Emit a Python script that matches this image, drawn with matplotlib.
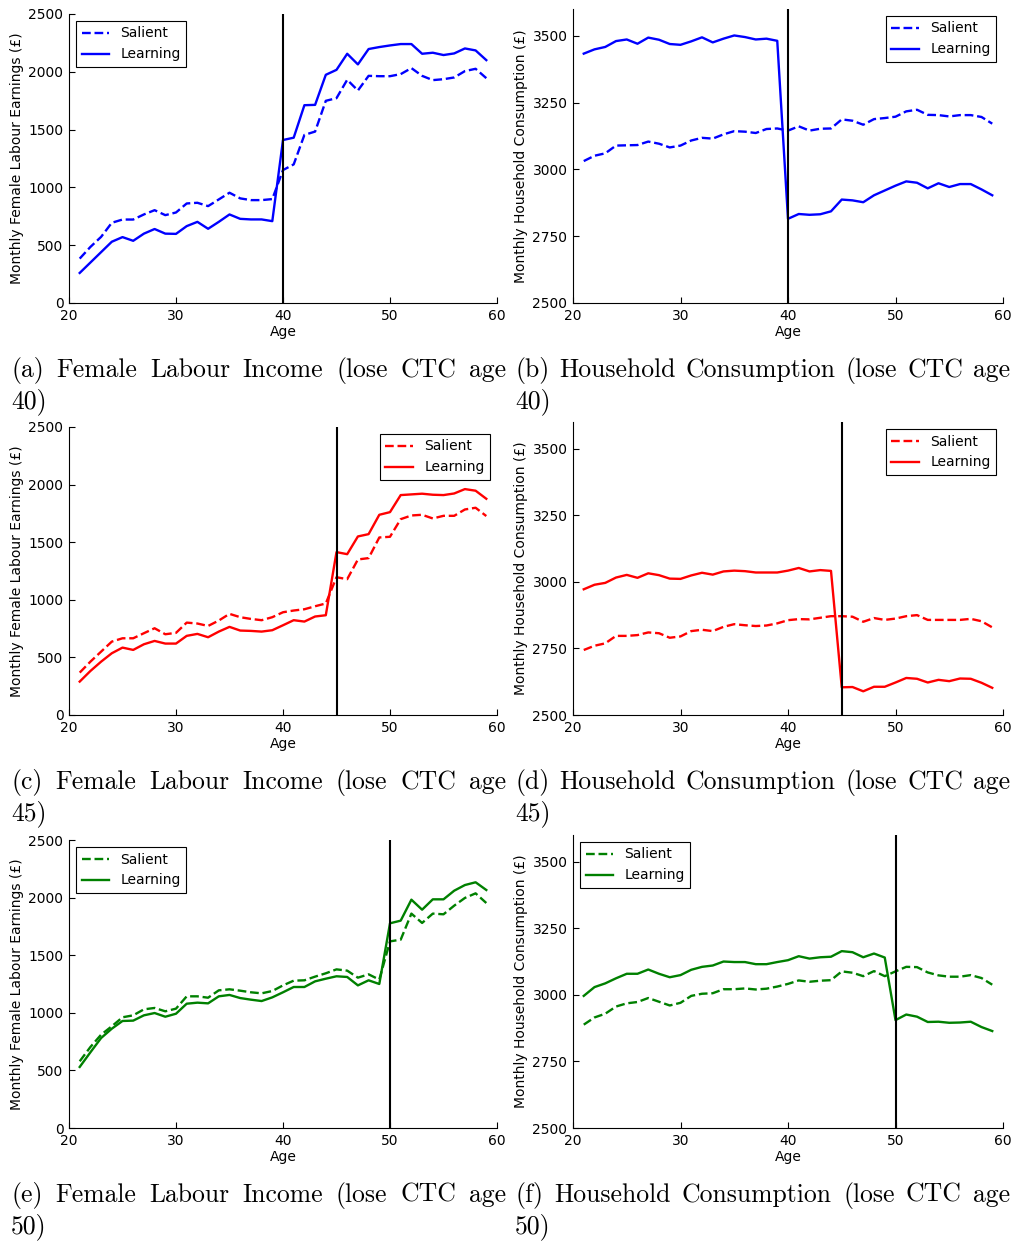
import numpy as np
import matplotlib
matplotlib.use("Agg")
import matplotlib.pyplot as plt

ages = np.arange(21, 60)

# female labour earnings, lose CTC at 40
earn40_salient = [384, 485, 572, 694, 722, 722, 766, 803, 760, 783, 861, 867, 838, 896, 954, 905, 890, 890, 899,
                  1150, 1199, 1454, 1483, 1749, 1772, 1931, 1838, 1965, 1962, 1962, 1980, 2032, 1965, 1928, 1936,
                  1951, 2006, 2026, 1945]
earn40_learning = [260, 350, 440, 530, 570, 538, 600, 640, 600, 598, 665, 702, 642, 702, 766, 728, 723, 723, 708,
                   1410, 1430, 1711, 1714, 1974, 2017, 2156, 2064, 2197, 2214, 2228, 2240, 2240, 2156, 2165, 2145,
                   2159, 2202, 2185, 2101]

# household consumption, lose CTC at 40
cons40_salient = [3031, 3051, 3060, 3089, 3090, 3091, 3104, 3096, 3082, 3089, 3108, 3118, 3115, 3131, 3143, 3141,
                  3136, 3151, 3153, 3145, 3161, 3145, 3152, 3153, 3187, 3182, 3167, 3188, 3192, 3197, 3217, 3223,
                  3204, 3203, 3198, 3203, 3203, 3196, 3171]
cons40_learning = [3433, 3449, 3458, 3480, 3486, 3470, 3493, 3485, 3469, 3466, 3479, 3494, 3475, 3489, 3501, 3495,
                   3486, 3489, 3481, 2815, 2833, 2830, 2832, 2843, 2887, 2884, 2877, 2903, 2921, 2939, 2955, 2950,
                   2929, 2948, 2934, 2945, 2945, 2925, 2903]

# female labour earnings, lose CTC at 45
earn45_salient = [368, 463, 550, 637, 666, 666, 710, 753, 701, 713, 802, 794, 773, 820, 878, 849, 834, 823, 849,
                  892, 907, 918, 944, 968, 1196, 1179, 1350, 1362, 1541, 1547, 1700, 1732, 1738, 1706, 1729, 1729,
                  1784, 1799, 1727]
earn45_learning = [290, 382, 463, 536, 585, 565, 614, 643, 620, 620, 687, 704, 675, 724, 765, 733, 730, 724, 736,
                   779, 823, 811, 855, 866, 1414, 1396, 1550, 1570, 1738, 1761, 1909, 1915, 1921, 1912, 1909, 1923,
                   1961, 1947, 1877]

# household consumption, lose CTC at 45
cons45_salient = [2744, 2760, 2769, 2797, 2797, 2800, 2810, 2807, 2790, 2795, 2815, 2820, 2815, 2831, 2841, 2837,
                  2834, 2836, 2844, 2856, 2860, 2859, 2865, 2871, 2871, 2869, 2850, 2864, 2857, 2862, 2871, 2875,
                  2857, 2857, 2857, 2857, 2861, 2852, 2829]
cons45_learning = [2972, 2989, 2996, 3016, 3026, 3015, 3032, 3025, 3012, 3011, 3024, 3034, 3027, 3039, 3042, 3040,
                   3035, 3035, 3035, 3042, 3052, 3039, 3044, 3041, 2604, 2605, 2589, 2606, 2606, 2622, 2639, 2636,
                   2622, 2632, 2627, 2637, 2636, 2621, 2602]

# female labour earnings, lose CTC at 50
earn50_salient = [579, 703, 810, 883, 961, 978, 1030, 1042, 1013, 1036, 1143, 1143, 1131, 1195, 1204, 1192, 1178,
                  1169, 1189, 1238, 1279, 1282, 1314, 1343, 1377, 1366, 1305, 1334, 1288, 1620, 1635, 1861, 1780,
                  1861, 1855, 1930, 1997, 2037, 1953]
earn50_learning = [530, 657, 781, 862, 929, 932, 978, 998, 966, 992, 1079, 1088, 1082, 1143, 1155, 1128, 1114,
                   1102, 1134, 1178, 1224, 1224, 1273, 1296, 1317, 1311, 1238, 1282, 1250, 1777, 1800, 1982, 1895,
                   1985, 1985, 2060, 2109, 2133, 2066]

# household consumption, lose CTC at 50
cons50_salient = [2888, 2915, 2929, 2956, 2968, 2973, 2988, 2974, 2960, 2970, 2996, 3004, 3006, 3021, 3021, 3024,
                  3020, 3023, 3031, 3041, 3054, 3049, 3053, 3055, 3088, 3083, 3070, 3089, 3070, 3088, 3105, 3104,
                  3084, 3073, 3068, 3068, 3074, 3063, 3038]
cons50_learning = [2996, 3029, 3043, 3062, 3079, 3079, 3095, 3079, 3066, 3074, 3094, 3105, 3110, 3125, 3123, 3123,
                   3115, 3115, 3123, 3130, 3145, 3136, 3141, 3143, 3164, 3160, 3141, 3155, 3140, 2905, 2926, 2918,
                   2898, 2899, 2895, 2896, 2899, 2879, 2864]

W, H = 1019, 1243
fig = plt.figure(figsize=(W / 100, H / 100), dpi=100)

earn_label = "Monthly Female Labour Earnings (£)"
cons_label = "Monthly Household Consumption (£)"

# (left, right, top, bottom) in pixels, series, colour, loss age, legend loc, caption
panels = [
    ((69, 497, 14, 303), earn40_salient, earn40_learning, 'b', 40, 'upper left', earn_label,
     "(a) Female Labour Income (lose CTC age", "40)"),
    ((573, 1003, 9, 303), cons40_salient, cons40_learning, 'b', 40, 'upper right', cons_label,
     "(b) Household Consumption (lose CTC age", "40)"),
    ((69, 497, 427, 715), earn45_salient, earn45_learning, 'r', 45, 'upper right', earn_label,
     "(c) Female Labour Income (lose CTC age", "45)"),
    ((573, 1003, 422, 715), cons45_salient, cons45_learning, 'r', 45, 'upper right', cons_label,
     "(d) Household Consumption (lose CTC age", "45)"),
    ((69, 497, 840, 1128), earn50_salient, earn50_learning, 'g', 50, 'upper left', earn_label,
     "(e) Female Labour Income (lose CTC age", "50)"),
    ((573, 1003, 835, 1128), cons50_salient, cons50_learning, 'g', 50, 'upper left', cons_label,
     "(f) Household Consumption (lose CTC age", "50)"),
]

renderer = fig.canvas.get_renderer()
CAP_SIZE = 18.5


def caption(x0, x1, base, first, second):
    # justified first line, ragged second line
    words = first.split()
    texts = [fig.text(0, 0, w, fontsize=CAP_SIZE, family='cmr10', va='baseline') for w in words]
    widths = [t.get_window_extent(renderer).width for t in texts]
    gap = (x1 - x0 - sum(widths)) / (len(words) - 1)
    x = x0
    for t, w in zip(texts, widths):
        t.set_position((x / W, 1 - base / H))
        x += w + gap
    fig.text(x0 / W, 1 - (base + 31) / H, second, fontsize=CAP_SIZE, family='cmr10', va='baseline')


for (l, r, t, b), sal, lrn, col, loss, loc, ylab, cap1, cap2 in panels:
    ax = fig.add_axes([l / W, 1 - b / H, (r - l) / W, (b - t) / H])
    ax.plot(ages, sal, color=col, ls='--', lw=1.7, label='Salient')
    ax.plot(ages, lrn, color=col, ls='-', lw=1.7, label='Learning')
    ax.axvline(loss, color='k', lw=1.5)
    ax.set_xlim(20, 60)
    ax.set_xticks([20, 30, 40, 50, 60])
    if ylab == earn_label:
        ax.set_ylim(0, 2500)
        ax.set_yticks([0, 500, 1000, 1500, 2000, 2500])
    else:
        ax.set_ylim(2500, 3600)
        ax.set_yticks([2500, 2750, 3000, 3250, 3500])
    for s in ['top', 'right']:
        ax.spines[s].set_visible(False)
    ax.tick_params(direction='in', length=4, labelsize=10, top=False, right=False, pad=4)
    ax.set_xlabel("Age", fontsize=10, labelpad=2)
    ax.set_ylabel(ylab, fontsize=10, labelpad=3)
    leg = ax.legend(loc=loc, fontsize=10, fancybox=False, framealpha=1)
    leg.get_frame().set_edgecolor('k')
    leg.get_frame().set_linewidth(0.8)
    caption(l - 58, l - 58 + 495, b + 74, cap1, cap2)

fig.savefig("out.png", dpi=100)
